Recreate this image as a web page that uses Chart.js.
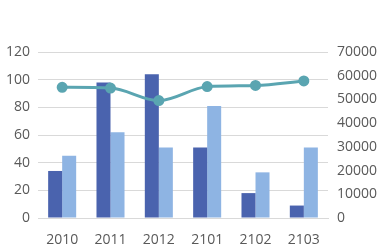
<!DOCTYPE html>
<html>
<head>
<meta charset="utf-8">
<script src="https://cdn.jsdelivr.net/npm/chart.js@4/dist/chart.umd.min.js"></script>
<style>
  html, body { margin: 0; padding: 0; background: #fff; }
</style>
</head>
<body>
<canvas id="myChart" width="382" height="251"></canvas>
<script>
var categorias = ["2010", "2011", "2012", "2101", "2102", "2103"];
var serieEscura = [34, 98, 104, 51, 18, 9];
var serieClara = [45, 62, 51, 81, 33, 51];
var serieLinha = [55100, 54800, 49500, 55400, 55900, 57800];

var ctx = document.getElementById("myChart").getContext("2d");
var fonte = { family: "'Open Sans', sans-serif", size: 14 };

var dados = {
    type: 'bar',
    data: {
        labels: categorias,
        datasets: [
            {
                type: 'line',
                data: serieLinha,
                yAxisID: 'y2',
                borderColor: '#5aa5b1',
                backgroundColor: '#5aa5b1',
                borderWidth: 3,
                pointRadius: 4,
                pointHoverRadius: 4,
                cubicInterpolationMode: 'monotone',
                order: 0
            },
            {
                data: serieEscura,
                yAxisID: 'y',
                backgroundColor: '#4a63ae',
                barPercentage: 1,
                categoryPercentage: 0.58,
                order: 1
            },
            {
                data: serieClara,
                yAxisID: 'y',
                backgroundColor: '#8eb4e3',
                barPercentage: 1,
                categoryPercentage: 0.58,
                order: 1
            }
        ]
    },
    options: {
        responsive: false,
        animation: { duration: 0 },
        layout: { padding: { top: 52, right: 0, bottom: 0, left: 0 } },
        plugins: { legend: { display: false }, tooltip: { enabled: false } },
        scales: {
            x: {
                grid: { display: false },
                border: { color: '#d9d9d9', width: 1 },
                ticks: { color: '#595959', font: fonte, padding: 6 },
                afterFit: function (s) { s.height = 33; }
            },
            y: {
                position: 'left',
                min: 0, max: 120,
                ticks: { stepSize: 20, color: '#595959', font: fonte, padding: 8 },
                grid: { color: '#d9d9d9', drawTicks: false },
                border: { display: false },
                afterFit: function (s) { s.width = 38; }
            },
            y2: {
                position: 'right',
                min: 0, max: 70000,
                ticks: {
                    stepSize: 10000, color: '#595959', font: fonte, padding: 9,
                    callback: function (v) { return String(v); }
                },
                grid: { display: false, drawTicks: false },
                border: { display: false },
                afterFit: function (s) { s.width = 54; }
            }
        }
    }
};
var myChart = new Chart(ctx, dados);
</script>
</body>
</html>
